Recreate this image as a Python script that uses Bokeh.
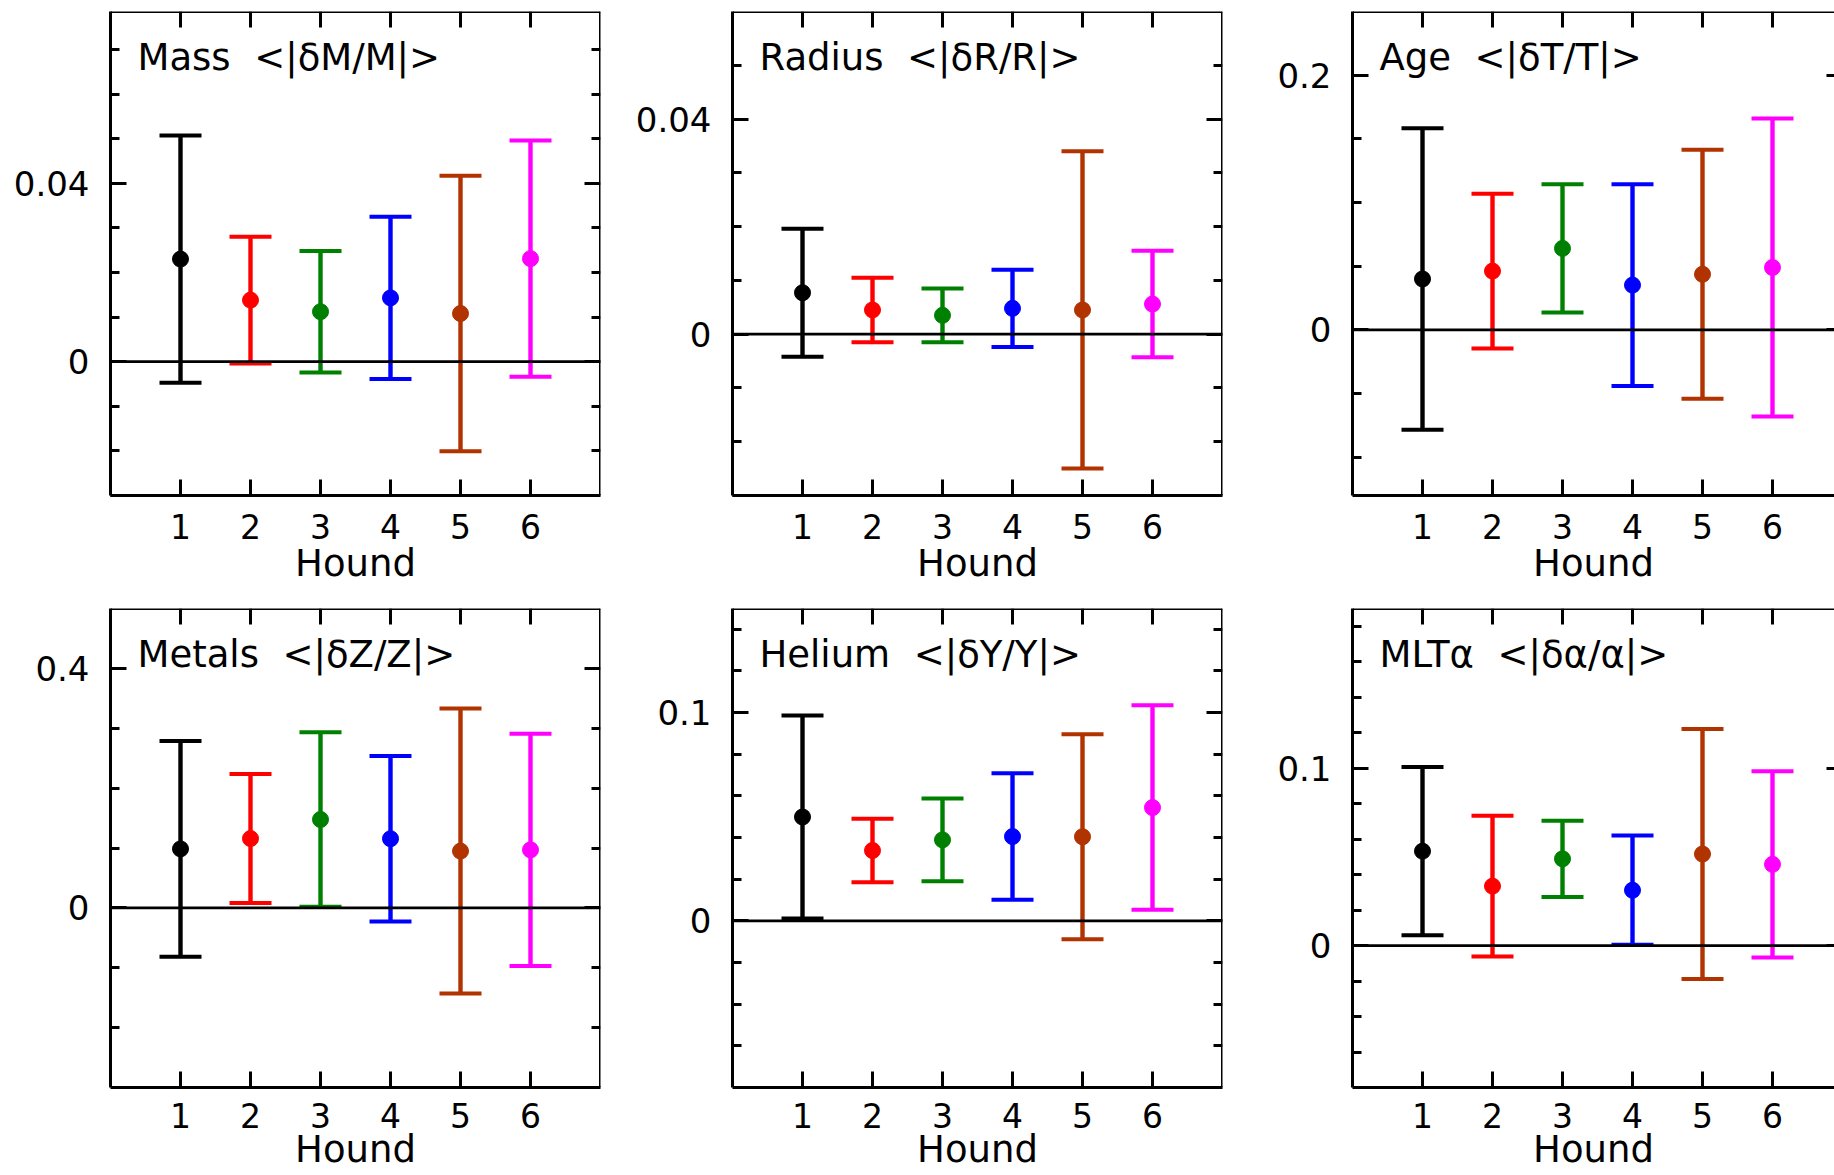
from bokeh.plotting import figure
from bokeh.models import (LinearAxis, FixedTicker, CustomJSTickFormatter, Label,
                          Span, Range1d)
from bokeh.layouts import column, row
from bokeh.embed import file_html
from bokeh.resources import INLINE

# ---------------- data ----------------
hounds = [1, 2, 3, 4, 5, 6]
hound_colors = ["#000000", "#ff0000", "#008000", "#0000ff", "#b03300", "#ff00ff"]
x_label = "Hound"

mass_title = "Mass \u00a0<|\u03b4M/M|>"
mass_mean = [0.0230, 0.0138, 0.0112, 0.0143, 0.0108, 0.0231]
mass_err = [0.0277, 0.0142, 0.0136, 0.0182, 0.0309, 0.0265]
mass_ticks = [0, 0.04]
mass_minor = [-0.03, -0.02, -0.01, 0.01, 0.02, 0.03, 0.05, 0.06, 0.07]
mass_range = (-0.03, 0.0785)

radius_title = "Radius \u00a0<|\u03b4R/R|>"
radius_mean = [0.0077, 0.0045, 0.0035, 0.0048, 0.0045, 0.0056]
radius_err = [0.0119, 0.0060, 0.0050, 0.0072, 0.0295, 0.0099]
radius_ticks = [0, 0.04]
radius_minor = [-0.03, -0.02, -0.01, 0.01, 0.02, 0.03, 0.05]
radius_range = (-0.03, 0.06)

age_title = "Age \u00a0<|\u03b4T/T|>"
age_mean = [0.0400, 0.0462, 0.0640, 0.0352, 0.0437, 0.0490]
age_err = [0.1183, 0.0607, 0.0504, 0.0792, 0.0978, 0.1170]
age_ticks = [0, 0.2]
age_minor = [-0.1, -0.05, 0.05, 0.1, 0.15]
age_range = (-0.13, 0.25)

metals_title = "Metals \u00a0<|\u03b4Z/Z|>"
metals_mean = [0.0985, 0.1158, 0.1476, 0.1155, 0.0948, 0.0969]
metals_err = [0.1800, 0.1078, 0.1457, 0.1383, 0.2380, 0.1938]
metals_ticks = [0, 0.4]
metals_minor = [-0.2, -0.1, 0.1, 0.2, 0.3]
metals_range = (-0.3, 0.5)

helium_title = "Helium \u00a0<|\u03b4Y/Y|>"
helium_mean = [0.0499, 0.0338, 0.0389, 0.0405, 0.0404, 0.0544]
helium_err = [0.0487, 0.0153, 0.0199, 0.0304, 0.0492, 0.0491]
helium_ticks = [0, 0.1]
helium_minor = [-0.06, -0.04, -0.02, 0.02, 0.04, 0.06, 0.08, 0.12, 0.14]
helium_range = (-0.08, 0.15)

mlt_title = "MLT\u03b1 \u00a0<|\u03b4\u03b1/\u03b1|>"
mlt_mean = [0.0532, 0.0335, 0.0489, 0.0312, 0.0516, 0.0458]
mlt_err = [0.0474, 0.0397, 0.0215, 0.0308, 0.0705, 0.0525]
mlt_ticks = [0, 0.1]
mlt_minor = [-0.06, -0.04, -0.02, 0.02, 0.04, 0.06, 0.08, 0.12, 0.14, 0.16, 0.18]
mlt_range = (-0.08, 0.19)

# ---------------- style ----------------
FONT = "DejaVu Sans"
X_FULL = 7.0
FRAME_W = 490


def make_panel(title, mean, err, yr, major, minor, width, height,
               bl, br, bt, bb, frame_w, clipped=False,
               tick_standoff=18, label_standoff=0):
    y0, y1 = yr
    frame_h = height - bt - bb
    x_end = X_FULL * frame_w / FRAME_W
    p = figure(width=width, height=height,
               x_range=Range1d(0, x_end), y_range=Range1d(y0, y1),
               x_axis_location=None, y_axis_location=None,
               toolbar_location=None, output_backend="svg",
               min_border_left=bl, min_border_right=br,
               min_border_top=bt, min_border_bottom=bb,
               outline_line_color=None,
               background_fill_color="white", border_fill_color="white")
    p.grid.visible = False

    common = dict(axis_line_width=3, axis_line_color="black",
                  major_tick_line_width=3, minor_tick_line_width=3,
                  major_tick_line_color="black", minor_tick_line_color="black",
                  major_tick_in=16, major_tick_out=0,
                  minor_tick_in=9, minor_tick_out=0,
                  major_label_text_font=FONT,
                  major_label_text_font_size="33px",
                  major_label_text_color="black")
    fmt = CustomJSTickFormatter(code="return String(tick)")
    blank = CustomJSTickFormatter(code="return ''")

    left = LinearAxis(ticker=FixedTicker(ticks=major, minor_ticks=minor),
                      formatter=fmt, major_label_standoff=21, **common)
    left.major_label_text_font_size = "34px"
    p.add_layout(left, "left")
    right = LinearAxis(ticker=FixedTicker(ticks=major,
                                          minor_ticks=[] if clipped else minor),
                       formatter=blank, fixed_location=X_FULL, **common)
    p.add_layout(right, "right")
    bottom = LinearAxis(ticker=FixedTicker(ticks=hounds, minor_ticks=[]),
                        formatter=fmt, major_label_standoff=tick_standoff,
                        axis_label=x_label, axis_label_text_font=FONT,
                        axis_label_text_font_size="37px",
                        axis_label_text_font_style="normal",
                        axis_label_text_color="black",
                        axis_label_standoff=label_standoff, **common)
    p.add_layout(bottom, "below")
    top = LinearAxis(ticker=FixedTicker(ticks=hounds, minor_ticks=[]),
                     formatter=blank, fixed_location=y1, **common)
    p.add_layout(top, "above")

    p.add_layout(Span(location=0, dimension="width", line_color="black",
                      line_width=2.7))

    lo = [m - e for m, e in zip(mean, err)]
    hi = [m + e for m, e in zip(mean, err)]
    p.segment(x0=hounds, y0=lo, x1=hounds, y1=hi, line_color=hound_colors,
              line_width=4.4)
    p.scatter(x=hounds, y=hi, marker="dash", size=42, line_width=4,
              line_color=hound_colors)
    p.scatter(x=hounds, y=lo, marker="dash", size=42, line_width=4,
              line_color=hound_colors)
    p.scatter(x=hounds, y=mean, marker="circle", size=16,
              fill_color=hound_colors, line_color=hound_colors)

    per_px = (y1 - y0) / frame_h
    p.add_layout(Label(x=27.0 / FRAME_W * X_FULL, y=y1 - 46.0 * per_px,
                       text=title, text_font=FONT,
                       text_font_size="37px", text_color="black",
                       text_baseline="alphabetic", text_align="left"))
    return p


# column widths: 620, 622, 592 ; row heights: 600, 575
p1 = make_panel(mass_title, mass_mean, mass_err, mass_range, mass_ticks, mass_minor,
                620, 600, 110, 20, 11, 105, 490)
p2 = make_panel(radius_title, radius_mean, radius_err, radius_range, radius_ticks,
                radius_minor, 622, 600, 112, 20, 11, 105, 490)
p3 = make_panel(age_title, age_mean, age_err, age_range, age_ticks, age_minor,
                592, 600, 110, 0, 11, 105, 482, clipped=True)
p4 = make_panel(metals_title, metals_mean, metals_err, metals_range, metals_ticks,
                metals_minor, 620, 575, 110, 20, 8, 88, 490,
                tick_standoff=15, label_standoff=-3)
p5 = make_panel(helium_title, helium_mean, helium_err, helium_range, helium_ticks,
                helium_minor, 622, 575, 112, 20, 8, 88, 490,
                tick_standoff=15, label_standoff=-3)
p6 = make_panel(mlt_title, mlt_mean, mlt_err, mlt_range, mlt_ticks, mlt_minor,
                592, 575, 110, 0, 8, 88, 482, clipped=True,
                tick_standoff=15, label_standoff=-3)

layout = column(row(p1, p2, p3), row(p4, p5, p6))
open("out.html", "w").write(file_html(layout, INLINE))
